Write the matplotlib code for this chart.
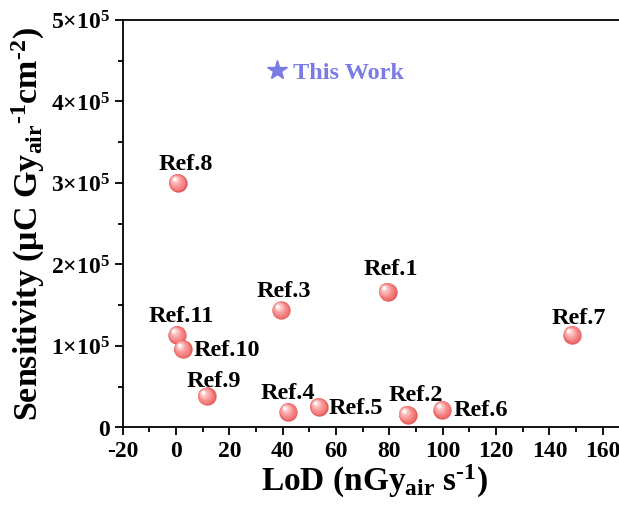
import matplotlib
matplotlib.use("Agg")
import matplotlib.pyplot as plt
from matplotlib.lines import Line2D
from matplotlib.transforms import offset_copy
from matplotlib.ticker import FuncFormatter, MultipleLocator
import numpy as np

plt.rcParams['font.family'] = ['Liberation Serif', 'DejaVu Serif']
plt.rcParams['font.weight'] = 'bold'
plt.rcParams['axes.unicode_minus'] = False
plt.rcParams['mathtext.fontset'] = 'custom'
plt.rcParams['mathtext.rm'] = 'Liberation Serif:bold'
plt.rcParams['mathtext.it'] = 'Liberation Serif:bold'
plt.rcParams['mathtext.bf'] = 'Liberation Serif:bold'
plt.rcParams['mathtext.default'] = 'rm'

labels = ['Ref.1', 'Ref.2', 'Ref.3', 'Ref.4', 'Ref.5', 'Ref.6', 'Ref.7', 'Ref.8', 'Ref.9', 'Ref.10', 'Ref.11']
lod = [79.3, 86.8, 39.5, 42.1, 53.6, 99.9, 148.6, 0.75, 11.5, 2.6, 0.5]
sens = [1.664e5, 0.155e5, 1.436e5, 0.19e5, 0.25e5, 0.216e5, 1.136e5, 3.0e5, 0.38e5, 0.96e5, 1.133e5]
# label placement: (dx px, dy px, ha)
label_pos = {
    'Ref.1': (3, 23, 'center'), 'Ref.2': (8, 20, 'center'), 'Ref.3': (2, 20, 'center'),
    'Ref.4': (0, 19, 'center'), 'Ref.5': (10, -1, 'left'), 'Ref.6': (11, 0, 'left'),
    'Ref.7': (6, 17, 'center'), 'Ref.8': (8, 19, 'center'), 'Ref.9': (7, 16, 'center'),
    'Ref.10': (11, 0, 'left'), 'Ref.11': (4, 19, 'center'),
}
this_work_label = 'This Work'

fig = plt.figure(figsize=(6.19, 5.06), dpi=100)
ax = fig.add_axes([122.7 / 619, 77.7 / 506, (627 - 122.7) / 619, (428.3 - 20.8) / 506])
ax.set_xlim(-20, -20 + (627 - 122.7) / 2.667)
ax.set_ylim(0, 5e5)

# sphere-like markers: layered circles
layers = [
    ('#e35e5e', 175, 0.0),
    ('#ef7474', 150, -0.4),
    ('#f58686', 115, -0.9),
    ('#f99c9c', 75, -1.5),
    ('#fcb9b9', 40, -2.0),
    ('#fedcdc', 16, -2.5),
    ('#ffffff', 5, -2.8),
]
for col, s, off in layers:
    tr = offset_copy(ax.transData, fig=fig, x=off, y=-off, units='points')
    ax.scatter(lod, sens, s=s, color=col, transform=tr, linewidths=0, zorder=3)

for lab, x, y in zip(labels, lod, sens):
    dx, dy, ha = label_pos[lab]
    ax.annotate(lab, (x, y), xytext=(dx * 0.72, dy * 0.72), textcoords='offset points',
                ha=ha, va='center', fontsize=17.5, fontweight='bold', color='black', zorder=4)

purple = '#7b7be6'
h = Line2D([], [], marker='*', ls='none', color=purple, markersize=15, label=this_work_label)
leg = ax.legend(handles=[h], loc='center left', bbox_to_anchor=(265 / 619, 1 - 73 / 506),
                bbox_transform=fig.transFigure, frameon=False, borderpad=0, borderaxespad=0,
                handletextpad=0.15, handlelength=1.0,
                prop={'family': 'Liberation Serif', 'weight': 'bold', 'size': 17.5})
for t in leg.get_texts():
    t.set_color(purple)

ax.xaxis.set_major_locator(MultipleLocator(20))
ax.xaxis.set_minor_locator(MultipleLocator(10))
ax.yaxis.set_major_locator(MultipleLocator(1e5))
ax.yaxis.set_minor_locator(MultipleLocator(0.5e5))


def yfmt(v, pos):
    if v == 0:
        return '0'
    n = int(round(v / 1e5))
    return r'$%d{\times}10^{5}$' % n


ax.yaxis.set_major_formatter(FuncFormatter(yfmt))
ax.tick_params(which='major', direction='out', length=6, width=1.3, labelsize=17, pad=3)
ax.tick_params(which='minor', direction='out', length=3.5, width=1.3)
for lbl in ax.get_xticklabels() + ax.get_yticklabels():
    lbl.set_fontweight('bold')
for sp in ax.spines.values():
    sp.set_linewidth(1.3)

ax.set_xlabel('LoD (nGy$_{\\mathrm{air}}$ s$^{\\mathrm{\u20101}}$)', fontsize=24, fontweight='bold', labelpad=1)
ax.set_ylabel('Sensitivity ($\\mu$C Gy$_{\\mathrm{air}}$$^{\\mathrm{\u20101}}$cm$^{\\mathrm{\u20102}}$)',
              fontsize=24.5, fontweight='bold', labelpad=3)

fig.savefig('out.png', dpi=100)
